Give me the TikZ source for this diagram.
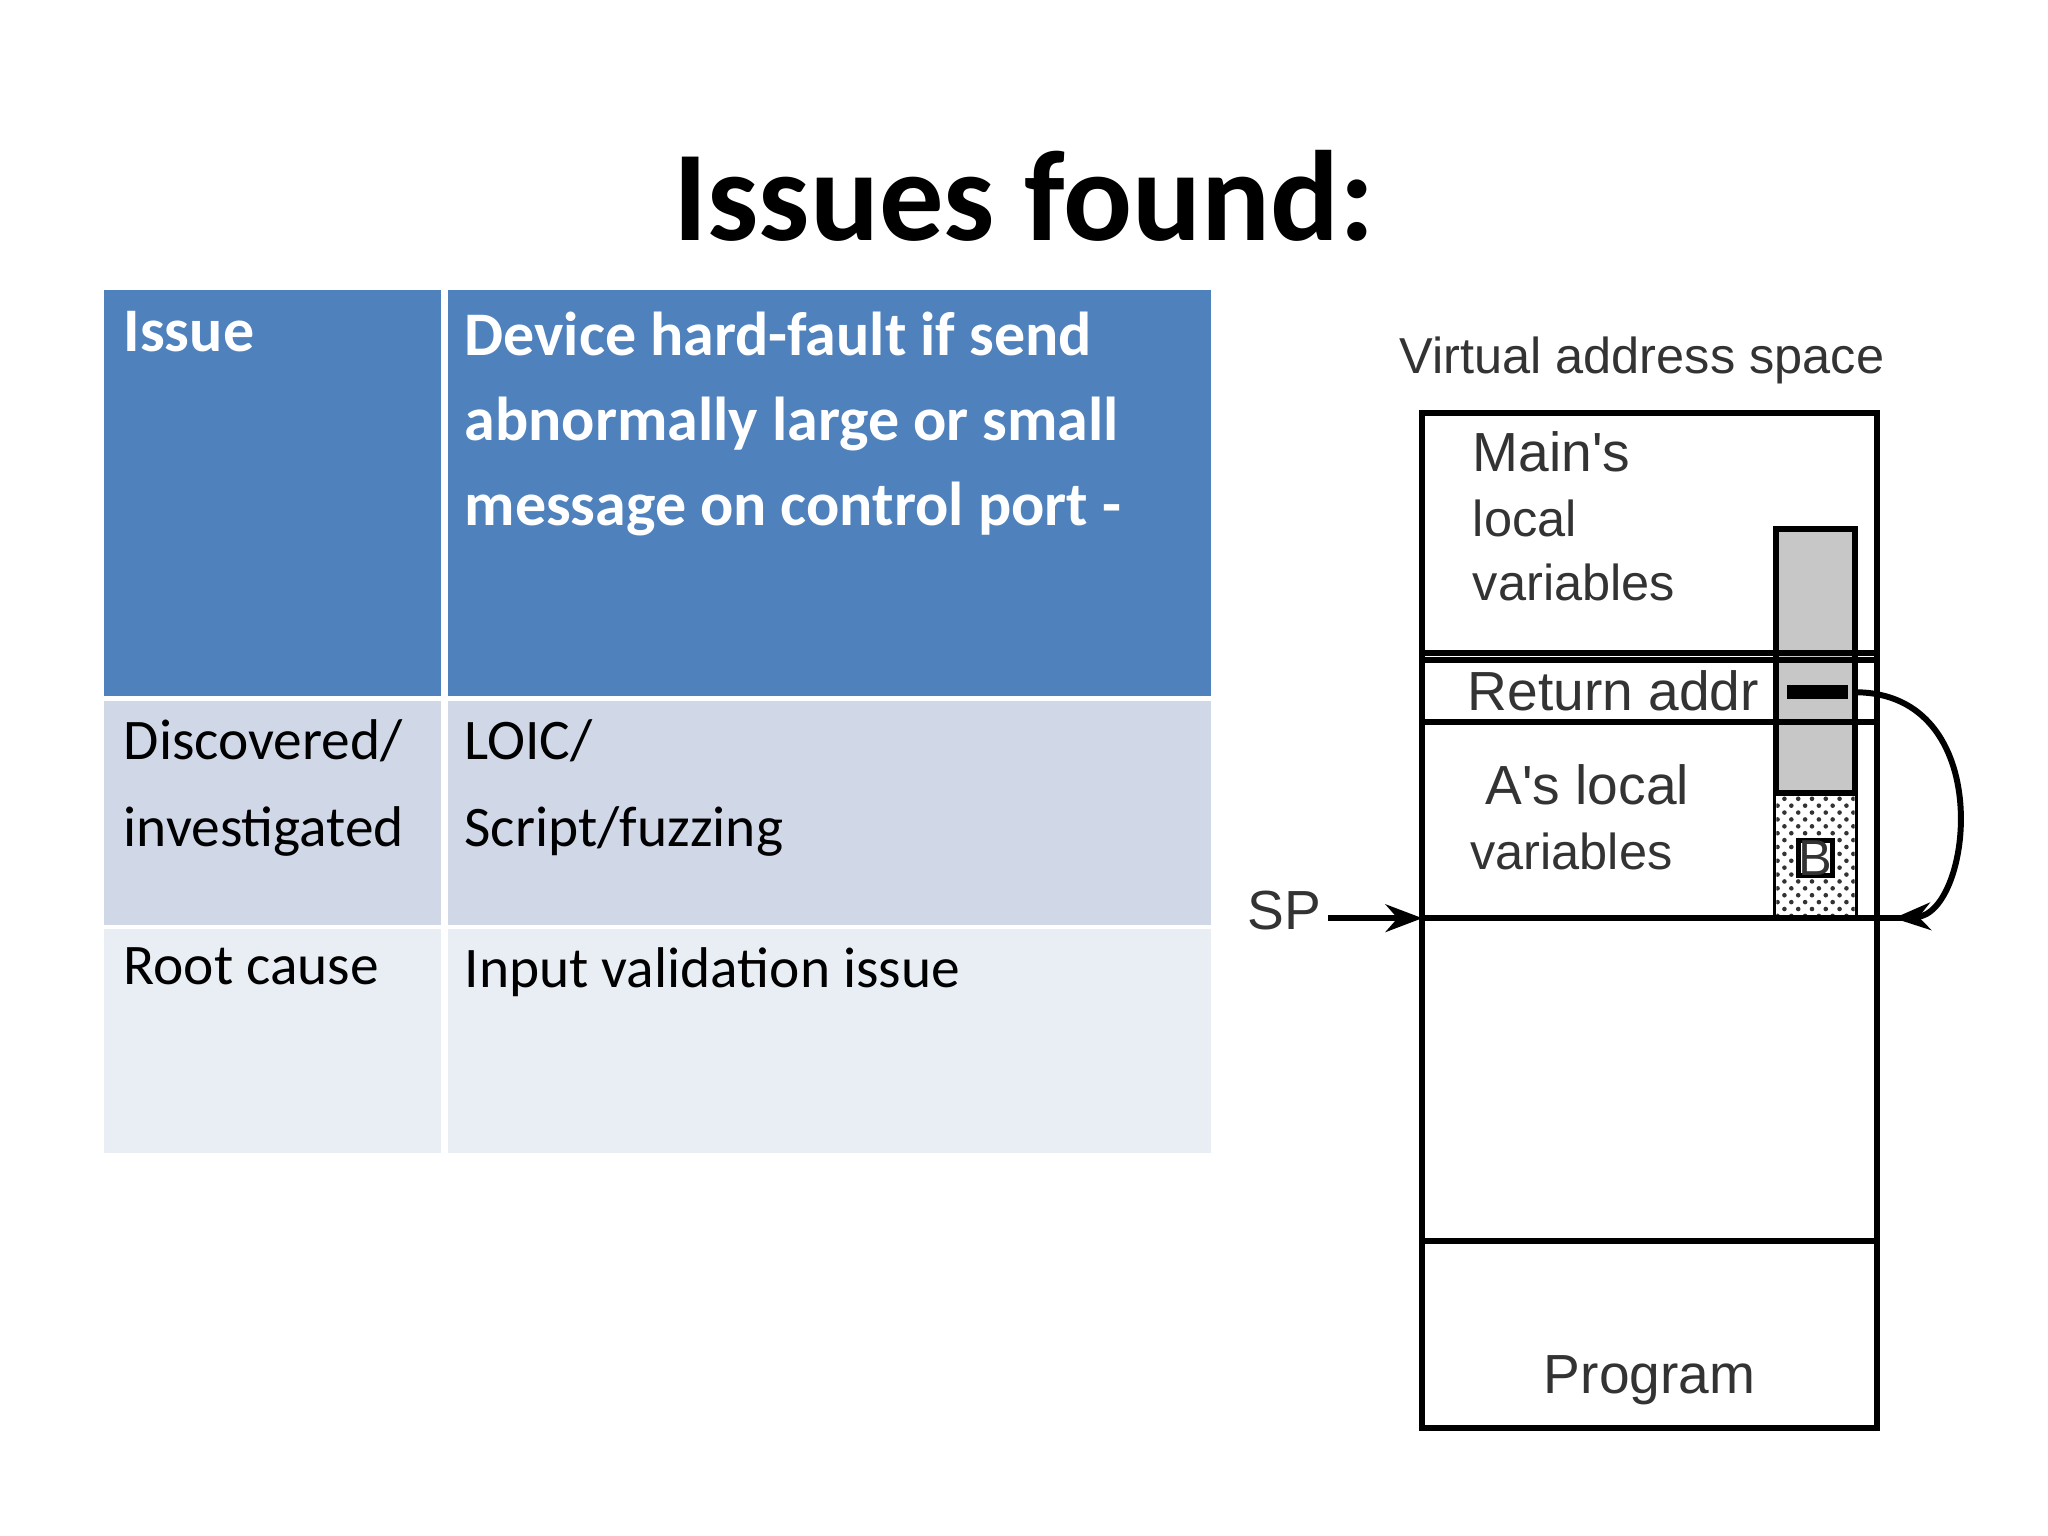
\documentclass[tikz,border=0pt]{standalone}
\usepackage{fontspec}
\setmainfont{Carlito}
\newfontfamily\arl{Liberation Sans}
\usetikzlibrary{patterns,arrows.meta}
\definecolor{hdr}{HTML}{4F81BD}
\definecolor{rowa}{HTML}{D0D8E8}
\definecolor{rowb}{HTML}{E9EDF4}
\begin{document}
\begin{tikzpicture}[x=0.01cm,y=-0.01cm,
  cell/.style={anchor=north west,align=left,inner sep=0pt,font=\fontsize{12.5}{19}\selectfont},
  hcell/.style={cell,text=white,font=\fontsize{13.5}{18.5}\selectfont\bfseries},
  dtxt/.style={font=\arl\fontsize{11}{14}\selectfont,text=black!80,align=left,inner sep=0pt},
  ln/.style={line width=1.3pt}]
\useasboundingbox (0,0) rectangle (1568,1176);
\node (title) at (784,150) {\fontsize{28}{30}\selectfont\bfseries Issues found:};
% table
\fill[hdr] (80,222) rectangle (927,533);
\fill[rowa] (80,537) rectangle (927,708);
\fill[rowb] (80,711) rectangle (927,883);
\draw[white,line width=1.5pt] (340,222) -- (340,883);
\node[hcell] (h1) at (94,238) {Issue};
\node[hcell] (h2) at (355,238) {Device hard-fault if send\\abnormally large or small\\message on control port -};
\node[cell] (r1a) at (94,550) {Discovered/\\investigated};
\node[cell] (r1b) at (355,550) {LOIC/\\Script/fuzzing};
\node[cell] (r2a) at (94,725) {Root cause};
\node[cell] (r2b) at (355,725) {Input validation issue};
% stack diagram
\node[dtxt] (vas) at (1257,276) {Virtual address space};
\draw[ln] (1089,316) rectangle (1437,1093);
\fill[black!22] (1360,405) rectangle (1420,607);
\draw[ln] (1360,703) -- (1360,405) -- (1420,405) -- (1420,703);
\fill[white] (1360,607) rectangle (1420,703);
\fill[pattern=crosshatch dots,pattern color=black!80] (1360,607) rectangle (1420,703);
\draw[ln] (1360,607) -- (1420,607);
\node[draw,fill=white,line width=1pt,inner sep=1pt,dtxt] (B) at (1390,657) {B};
\draw[ln] (1089,500) -- (1437,500);
\draw[ln] (1089,505) -- (1437,505);
\draw[ln] (1089,553) -- (1437,553);
\draw[ln] (1089,950) -- (1437,950);
\draw[line width=3pt] (1368,530) -- (1415,530);
\coordinate (sp) at (1089,703);
\draw[ln] (sp) -- (1470,703);
\node[dtxt,anchor=north west] (main) at (1127,330) {\fontsize{12}{16}\selectfont Main's\\local\\variables};
\node[dtxt,anchor=west] (ret) at (1123,529) {\fontsize{12}{14}\selectfont Return addr};
\node[dtxt,anchor=north west] (aloc) at (1125,585) {\fontsize{12}{16}\selectfont\ A's local\\variables};
\node[dtxt,anchor=center] (prog) at (1263,1057) {\fontsize{12}{14}\selectfont Program};
\node[dtxt,anchor=east] (SP) at (1012,697) {\fontsize{12}{14}\selectfont SP};
\draw[ln,-{Stealth[length=8pt]}] (SP.east) ++(5,6) -- (sp);
\coordinate (ra) at (1420,530);
\coordinate (tg) at (1450,703);
\draw[ln,-{Stealth[length=8pt]}] (ra) .. controls (1530,530) and (1510,700) .. (tg);
\end{tikzpicture}
\end{document}
